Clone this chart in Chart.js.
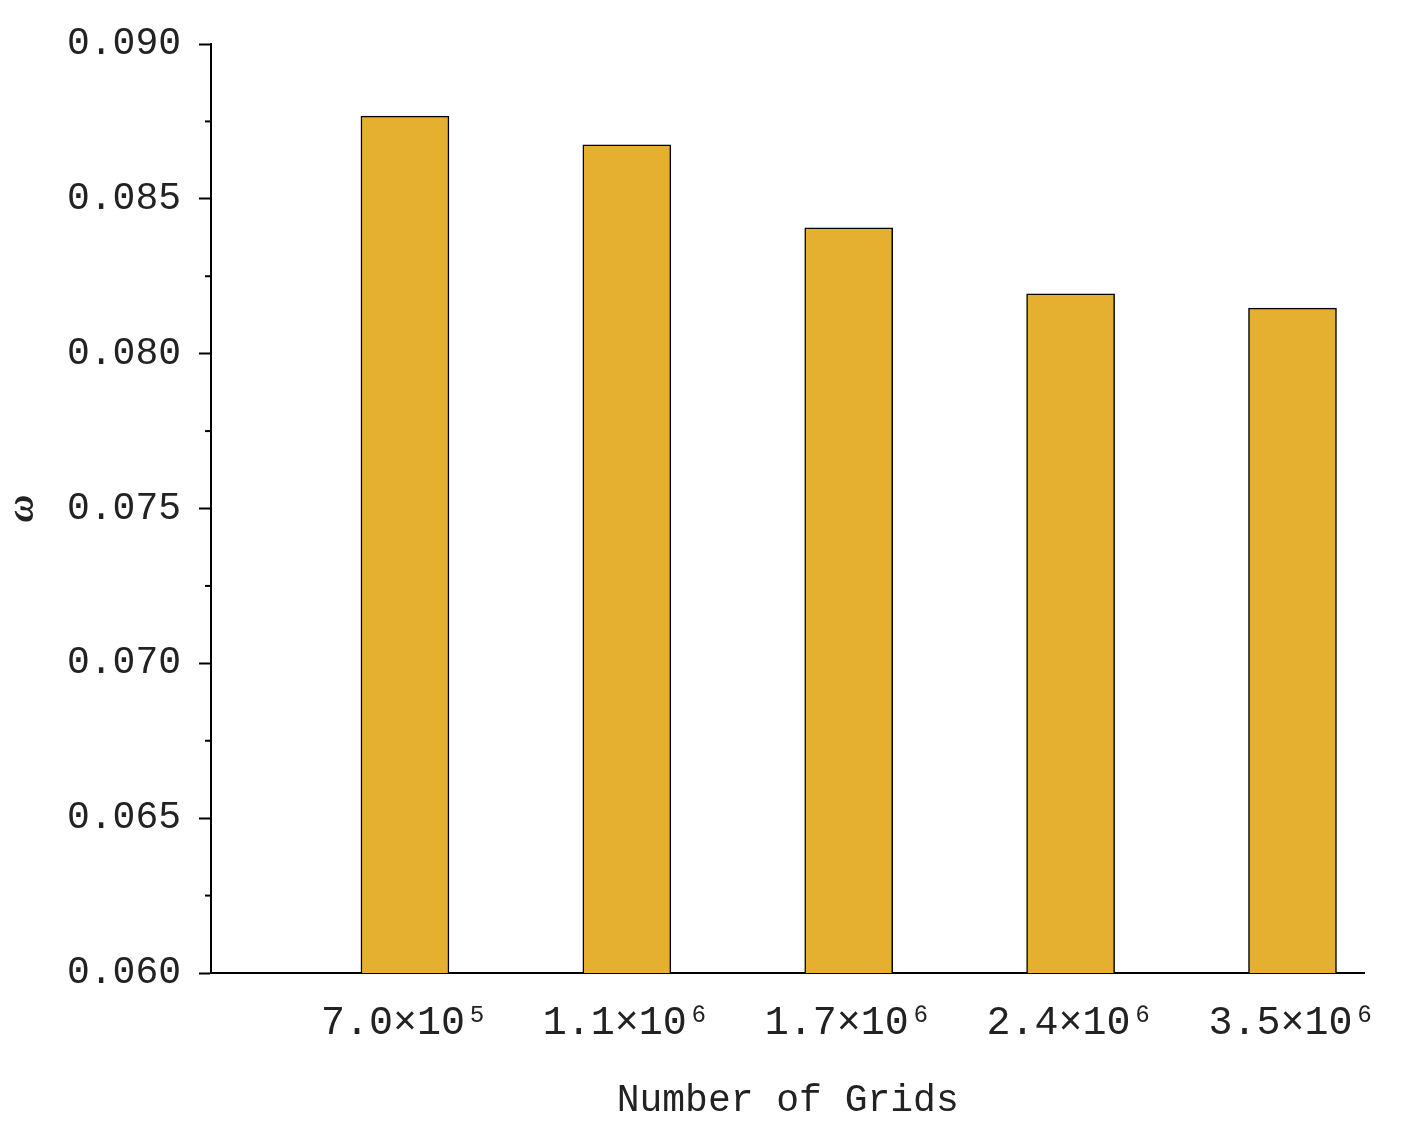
<!DOCTYPE html>
<html><head><meta charset="utf-8">
<script src="https://cdn.jsdelivr.net/npm/chart.js@4"></script>
<style>html,body{margin:0;background:#fff}#c{display:block}</style>
</head><body>
<div style="width:1405px;height:1128px"><canvas id="c"></canvas></div>
<script>
const gridLabels = ['7.0×10⁵', '1.1×10⁶', '1.7×10⁶', '2.4×10⁶', '3.5×10⁶'];
const gridPos = [1, 2, 3, 4, 5];
const omega = [0.08767, 0.08674, 0.08406, 0.08193, 0.08147];
const yTicks = [0.060, 0.065, 0.070, 0.075, 0.080, 0.085, 0.090];

const FONT = 'Liberation Mono';

// minor ticks between the major ones on the y axis
const minorTicks = {
  id: 'minorTicks',
  afterDraw(chart) {
    const y = chart.scales.y, ctx = chart.ctx, left = chart.chartArea.left;
    ctx.save();
    ctx.strokeStyle = '#000';
    ctx.lineWidth = 2;
    for (let i = 0; i < yTicks.length - 1; i++) {
      const p = y.getPixelForValue((yTicks[i] + yTicks[i + 1]) / 2);
      ctx.beginPath(); ctx.moveTo(left - 6, p); ctx.lineTo(left, p); ctx.stroke();
    }
    ctx.restore();
  }
};

new Chart(document.getElementById('c'), {
  type: 'bar',
  data: {
    datasets: [{
      data: gridPos.map((x, i) => ({ x, y: omega[i] })),
      backgroundColor: '#E5B030',
      borderColor: '#000',
      borderWidth: 1.5,
      barThickness: 88
    }]
  },
  options: {
    responsive: true,
    maintainAspectRatio: false,
    animation: false,
    layout: { padding: { top: 44, right: 40, left: 0, bottom: 0 } },
    plugins: { legend: { display: false }, tooltip: { enabled: false } },
    scales: {
      x: {
        type: 'linear', min: 0.126, max: 5.324, offset: false,
        afterBuildTicks: s => { s.ticks = gridPos.map(v => ({ value: v })); },
        afterFit: s => { s.height = 155; },
        ticks: {
          callback: v => gridLabels[gridPos.indexOf(v)] || '',
          font: { family: FONT, size: 40 }, color: '#222', maxRotation: 0, padding: 26
        },
        grid: { display: false, drawTicks: false, offset: false },
        border: { color: '#000', width: 2 },
        title: { display: true, text: 'Number of Grids', font: { family: FONT, size: 38 }, color: '#222', padding: { top: 4 } }
      },
      y: {
        min: 0.060, max: 0.090,
        afterBuildTicks: s => { s.ticks = yTicks.map(v => ({ value: v })); },
        afterFit: s => { s.width = 211; },
        ticks: {
          callback: v => v.toFixed(3),
          font: { family: FONT, size: 38 }, color: '#222', padding: 18
        },
        grid: { drawOnChartArea: false, drawTicks: true, tickLength: 12, color: '#000', tickWidth: 2 },
        border: { color: '#000', width: 2 },
        title: { display: true, text: 'ω', font: { family: 'Liberation Serif', size: 38, style: 'italic', weight: 'bold' }, color: '#222', padding: 0 }
      }
    }
  },
  plugins: [minorTicks]
});
</script>
</body></html>
